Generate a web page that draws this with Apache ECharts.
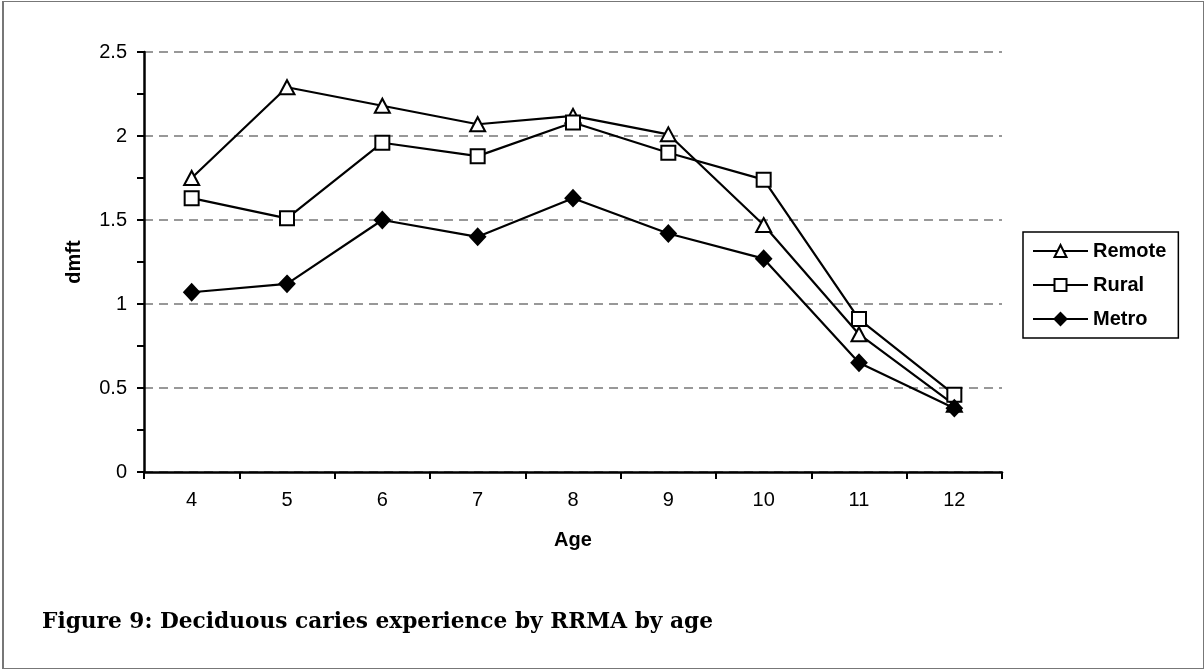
<!DOCTYPE html>
<html>
<head>
<meta charset="utf-8">
<script src="https://cdn.jsdelivr.net/npm/echarts@6/dist/echarts.min.js"></script>
<style>
  html, body { margin: 0; padding: 0; background: #fff; }
  #frame { position: absolute; left: 2px; top: 1px; width: 1199px; height: 666px; border: 1px solid #777; border-left-width: 2px; }
  #main { position: absolute; left: 0; top: 0; width: 1204px; height: 670px; }
</style>
</head>
<body>
<div id="frame"></div>
<div id="main"></div>
<script>
var ages = ['4', '5', '6', '7', '8', '9', '10', '11', '12'];
var remote = [1.75, 2.29, 2.18, 2.07, 2.12, 2.01, 1.47, 0.82, 0.40];
var rural = [1.63, 1.51, 1.96, 1.88, 2.08, 1.90, 1.74, 0.91, 0.46];
var metro = [1.07, 1.12, 1.50, 1.40, 1.63, 1.42, 1.27, 0.65, 0.38];

var myChart = echarts.init(document.getElementById('main'));

function lineSeries(name, data, symbol, size, fill) {
    return {
        name: name,
        type: 'line',
        data: data,
        symbol: symbol,
        symbolSize: size,
        showAllSymbol: true,
        lineStyle: { color: '#000', width: 2.2 },
        itemStyle: { color: fill, borderColor: '#000', borderWidth: 2 },
        emphasis: { disabled: true },
        z: 3
    };
}

var option = {
    backgroundColor: 'transparent',
    animation: false,
    textStyle: { fontFamily: 'Liberation Sans, Arial, sans-serif' },
    graphic: [{
        type: 'text',
        left: 42,
        top: 611,
        style: {
            text: 'Figure 9: Deciduous caries experience by RRMA by age',
            font: 'bold 21.7px "DejaVu Serif", Georgia, serif',
            fill: '#000'
        }
    }],
    grid: { left: 144, right: 202, top: 52, bottom: 198 },
    legend: {
        orient: 'vertical',
        left: 1023,
        top: 232,
        padding: [9, 12, 9, 9],
        itemGap: 14,
        itemWidth: 55,
        itemHeight: 15,
        borderColor: '#000',
        borderWidth: 1.5,
        textStyle: { fontWeight: 'bold', fontSize: 20, color: '#000' },
        data: ['Remote', 'Rural', 'Metro']
    },
    xAxis: {
        type: 'category',
        data: ages,
        boundaryGap: true,
        name: 'Age',
        nameLocation: 'middle',
        nameGap: 58,
        nameTextStyle: { fontWeight: 'bold', fontSize: 20, color: '#000' },
        axisLine: { lineStyle: { color: '#000', width: 2.5 } },
        axisTick: { show: true, length: 7, lineStyle: { color: '#000', width: 2 } },
        axisLabel: { fontSize: 20, color: '#000', margin: 18 },
        splitLine: { show: false }
    },
    yAxis: {
        type: 'value',
        min: 0,
        max: 2.5,
        interval: 0.5,
        name: 'dmft',
        nameLocation: 'middle',
        nameGap: 60,
        nameTextStyle: { fontWeight: 'bold', fontSize: 20, color: '#000' },
        axisLine: { show: true, lineStyle: { color: '#000', width: 2.5 } },
        axisTick: { show: true, length: 7, lineStyle: { color: '#000', width: 2 } },
        minorTick: { show: true, splitNumber: 2, length: 7, lineStyle: { color: '#000', width: 2 } },
        axisLabel: { fontSize: 20, color: '#000', margin: 17 },
        splitLine: { show: true, lineStyle: { color: '#777', type: [9, 6], width: 1.5 } }
    },
    series: [
        lineSeries('Remote', remote, 'triangle', [15, 14], '#fff'),
        lineSeries('Rural', rural, 'rect', 14, '#fff'),
        lineSeries('Metro', metro, 'diamond', [15, 16], '#000')
    ]
};
myChart.setOption(option);
</script>
</body>
</html>
